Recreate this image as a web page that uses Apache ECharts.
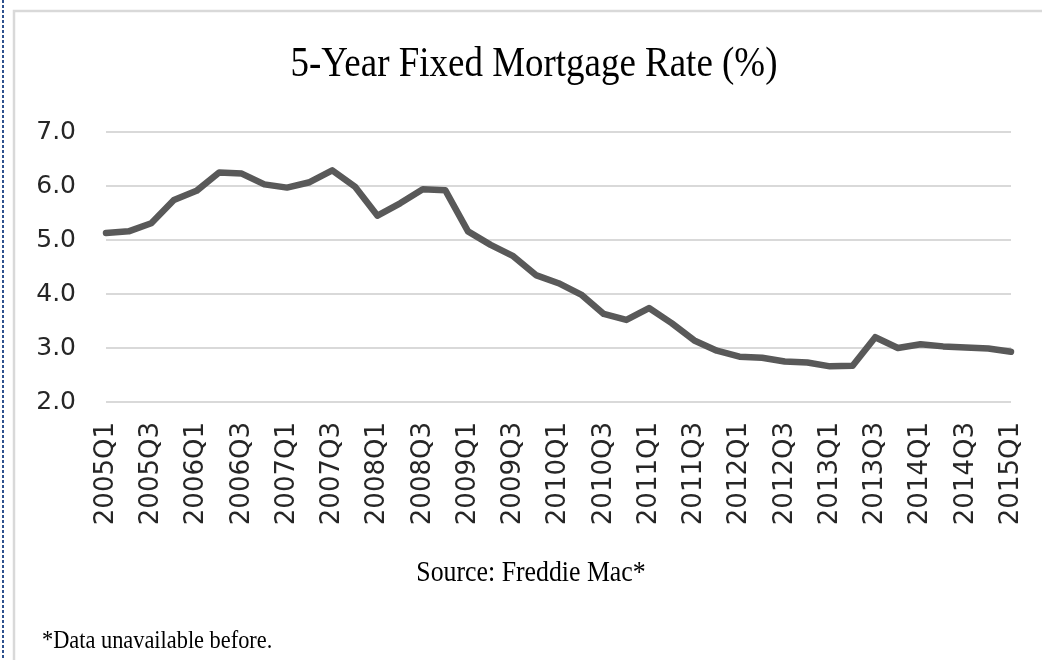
<!DOCTYPE html>
<html>
<head>
<meta charset="utf-8">
<script src="https://cdn.jsdelivr.net/npm/echarts@6/dist/echarts.min.js"></script>
<style>
html,body{margin:0;padding:0;background:#fff;}
#chart{width:1042px;height:660px;}
</style>
</head>
<body>
<div id="chart"></div>
<script>
var quarters = ['2005Q1','2005Q2','2005Q3','2005Q4','2006Q1','2006Q2','2006Q3','2006Q4',
  '2007Q1','2007Q2','2007Q3','2007Q4','2008Q1','2008Q2','2008Q3','2008Q4',
  '2009Q1','2009Q2','2009Q3','2009Q4','2010Q1','2010Q2','2010Q3','2010Q4',
  '2011Q1','2011Q2','2011Q3','2011Q4','2012Q1','2012Q2','2012Q3','2012Q4',
  '2013Q1','2013Q2','2013Q3','2013Q4','2014Q1','2014Q2','2014Q3','2014Q4','2015Q1'];
var rates = [5.13,5.16,5.31,5.74,5.91,6.25,6.23,6.03,
  5.97,6.07,6.29,5.99,5.45,5.68,5.94,5.92,
  5.16,4.91,4.70,4.35,4.20,3.99,3.63,3.52,
  3.74,3.46,3.14,2.95,2.84,2.82,2.75,2.73,
  2.66,2.67,3.20,3.00,3.07,3.03,3.01,2.99,2.93];
var titleText = '5-Year Fixed Mortgage Rate (%)';
var sourceText = 'Source: Freddie Mac*';
var noteText = '*Data unavailable before.';

var chart = echarts.init(document.getElementById('chart'));
chart.setOption({
  backgroundColor: '#ffffff',
  animation: false,
  grid: {left: 106, right: 31, top: 132, bottom: 258, containLabel: false},
  xAxis: {
    type: 'category',
    data: quarters,
    boundaryGap: false,
    axisLine: {show: false},
    axisTick: {show: false},
    splitLine: {show: false},
    axisLabel: {
      interval: 1,
      rotate: 90,
      margin: 20,
      fontFamily: 'DejaVu Sans',
      fontSize: 26,
      color: '#262626'
    }
  },
  yAxis: {
    type: 'value',
    min: 2,
    max: 7,
    interval: 1,
    axisLine: {show: false},
    axisTick: {show: false},
    splitLine: {lineStyle: {color: '#d9d9d9', width: 2}},
    axisLabel: {
      margin: 30,
      fontFamily: 'DejaVu Sans',
      fontSize: 25,
      color: '#262626',
      formatter: function (v) { return v.toFixed(1); }
    }
  },
  series: [{
    type: 'line',
    data: rates,
    showSymbol: false,
    symbol: 'none',
    lineStyle: {color: '#595959', width: 6.5, join: 'round', cap: 'round'}
  }],
  graphic: [
    {type: 'line', shape: {x1: 3, y1: 0, x2: 3, y2: 660}, style: {stroke: '#2f528f', lineWidth: 2, lineDash: [3, 2]}, silent: true},
    {type: 'rect', shape: {x: 14, y: 11, width: 1100, height: 700}, style: {fill: 'none', stroke: '#d9d9d9', lineWidth: 2.5}, silent: true},
    {type: 'text', x: 534, y: 65, scaleX: 0.88, style: {text: titleText, x: 0, y: 0, align: 'center', verticalAlign: 'middle', fontFamily: 'Liberation Serif', fontSize: 42, fill: '#000000'}},
    {type: 'text', x: 531, y: 573, scaleX: 0.86, style: {text: sourceText, x: 0, y: 0, align: 'center', verticalAlign: 'middle', fontFamily: 'Liberation Serif', fontSize: 30, fill: '#000000'}},
    {type: 'text', x: 42, y: 641, scaleX: 0.86, style: {text: noteText, x: 0, y: 0, align: 'left', verticalAlign: 'middle', fontFamily: 'Liberation Serif', fontSize: 26, fill: '#000000'}}
  ]
});
</script>
</body>
</html>
